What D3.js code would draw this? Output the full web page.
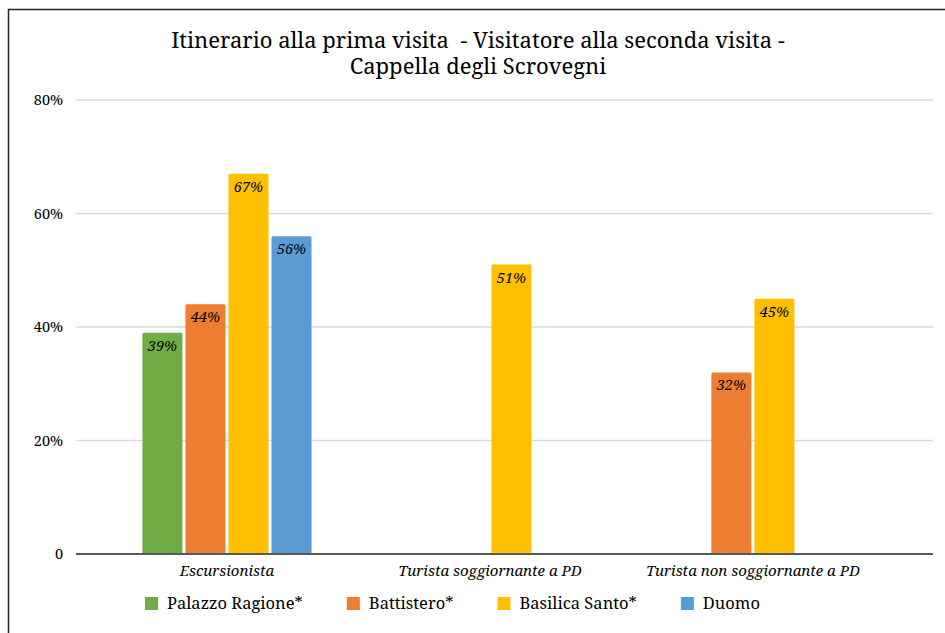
<!DOCTYPE html>
<html><head><meta charset="utf-8">
<script src="https://cdn.jsdelivr.net/npm/d3@7"></script>
<style>
html,body{margin:0;padding:0;background:#fff;}
svg{display:block;}
</style></head>
<body><svg id="chart" width="945" height="633"></svg>
<script>
const titleLines = ["Itinerario alla prima visita  - Visitatore alla seconda visita -", "Cappella degli Scrovegni"];
const categories = ["Escursionista", "Turista soggiornante a PD", "Turista non soggiornante a PD"];
const seriesNames = ["Palazzo Ragione*", "Battistero*", "Basilica Santo*", "Duomo"];
const seriesColors = ["#70AD47", "#ED7D31", "#FFC000", "#5B9BD5"];
// values per series, by category (null = no bar)
const palazzoRagione = [0.39, null, null];
const battistero = [0.44, null, 0.32];
const basilicaSanto = [0.67, 0.51, 0.45];
const duomo = [0.56, null, null];
const yTicks = [0, 0.2, 0.4, 0.6, 0.8];

const seriesValues = [palazzoRagione, battistero, basilicaSanto, duomo];

(function(){
const FONT = "Noto Serif";
const svg = d3.select("#chart");
const W = 945, H = 633;
const mLeft = 76, mRight = 933, mTop = 100, mBottom = 554;

// frame
svg.append("path").attr("d", `M8.5,${H} L8.5,9.5 L${W},9.5`)
  .attr("fill","none").attr("stroke","#222").attr("stroke-width",1.5);

// title
titleLines.forEach((t,i)=>{
  svg.append("text").attr("class","title").attr("text-anchor","middle")
    .attr("x", 478).attr("y", 48 + i*26)
    .attr("font-size", 22)
    .style("white-space","pre").text(t);
});

const y = d3.scaleLinear().domain([0,0.8]).range([mBottom, mTop]);
const x0 = d3.scaleBand().domain(categories).range([mLeft, mRight])
  .paddingInner(0.357).paddingOuter(0.308).align(0.41);
const x1 = d3.scaleBand().domain(seriesNames).range([0, x0.bandwidth()])
  .paddingInner(0.07).paddingOuter(0);

// gridlines
svg.append("g").selectAll("line").data(yTicks.filter(d=>d>0)).join("line")
  .attr("x1", mLeft).attr("x2", mRight)
  .attr("y1", d=>y(d)).attr("y2", d=>y(d))
  .attr("stroke","#d9d9d9").attr("stroke-width",1.5);

// y axis labels
const yAxis = d3.axisLeft(y).tickValues(yTicks)
  .tickFormat(d => d===0 ? "0" : d3.format(".0%")(d)).tickSize(0).tickPadding(13);
const ya = svg.append("g").attr("transform",`translate(${mLeft},0)`).call(yAxis);
ya.select(".domain").remove();
ya.attr("font-family", FONT).attr("font-size", 14.5);

// bars
const data = [];
categories.forEach((c,ci)=>{
  seriesNames.forEach((s,si)=>{
    const v = seriesValues[si][ci];
    if (v !== null) data.push({c, s, v, color: seriesColors[si]});
  });
});
const bars = svg.append("g");
bars.selectAll("rect").data(data).join("rect")
  .attr("x", d=>x0(d.c)+x1(d.s))
  .attr("y", d=>y(d.v))
  .attr("width", x1.bandwidth())
  .attr("height", d=>mBottom - y(d.v))
  .attr("rx",1.5)
  .attr("fill", d=>d.color);
bars.selectAll("text").data(data).join("text")
  .attr("x", d=>x0(d.c)+x1(d.s)+x1.bandwidth()/2)
  .attr("y", d=>y(d.v)+18)
  .attr("text-anchor","middle")
  .attr("font-size", 14.5).attr("font-style","italic")
  .text(d=>d3.format(".0%")(d.v));

// zero line
svg.append("line").attr("x1",mLeft).attr("x2",mRight).attr("y1",mBottom).attr("y2",mBottom)
  .attr("stroke","#595959").attr("stroke-width",2);

// x axis labels
const xAxis = d3.axisBottom(x0).tickSize(0).tickPadding(11);
const xa = svg.append("g").attr("transform",`translate(0,${mBottom})`).call(xAxis);
xa.select(".domain").remove();
xa.attr("font-family", FONT).attr("font-size", 15).attr("font-style","italic");

// legend
const legend = svg.append("g").attr("transform","translate(145,597)");
let lx = 0;
seriesNames.forEach((s,i)=>{
  const g = legend.append("g").attr("transform",`translate(${lx},0)`);
  g.append("rect").attr("width",13).attr("height",13).attr("fill",seriesColors[i]);
  const t = g.append("text").attr("x",22).attr("y",12).attr("font-size", 16.5)
    .attr("font-family", FONT).text(s);
  lx += 22 + t.node().getComputedTextLength() + 44;
});

svg.selectAll("text").attr("font-family", FONT).attr("fill","#000");
})();
</script></body></html>
